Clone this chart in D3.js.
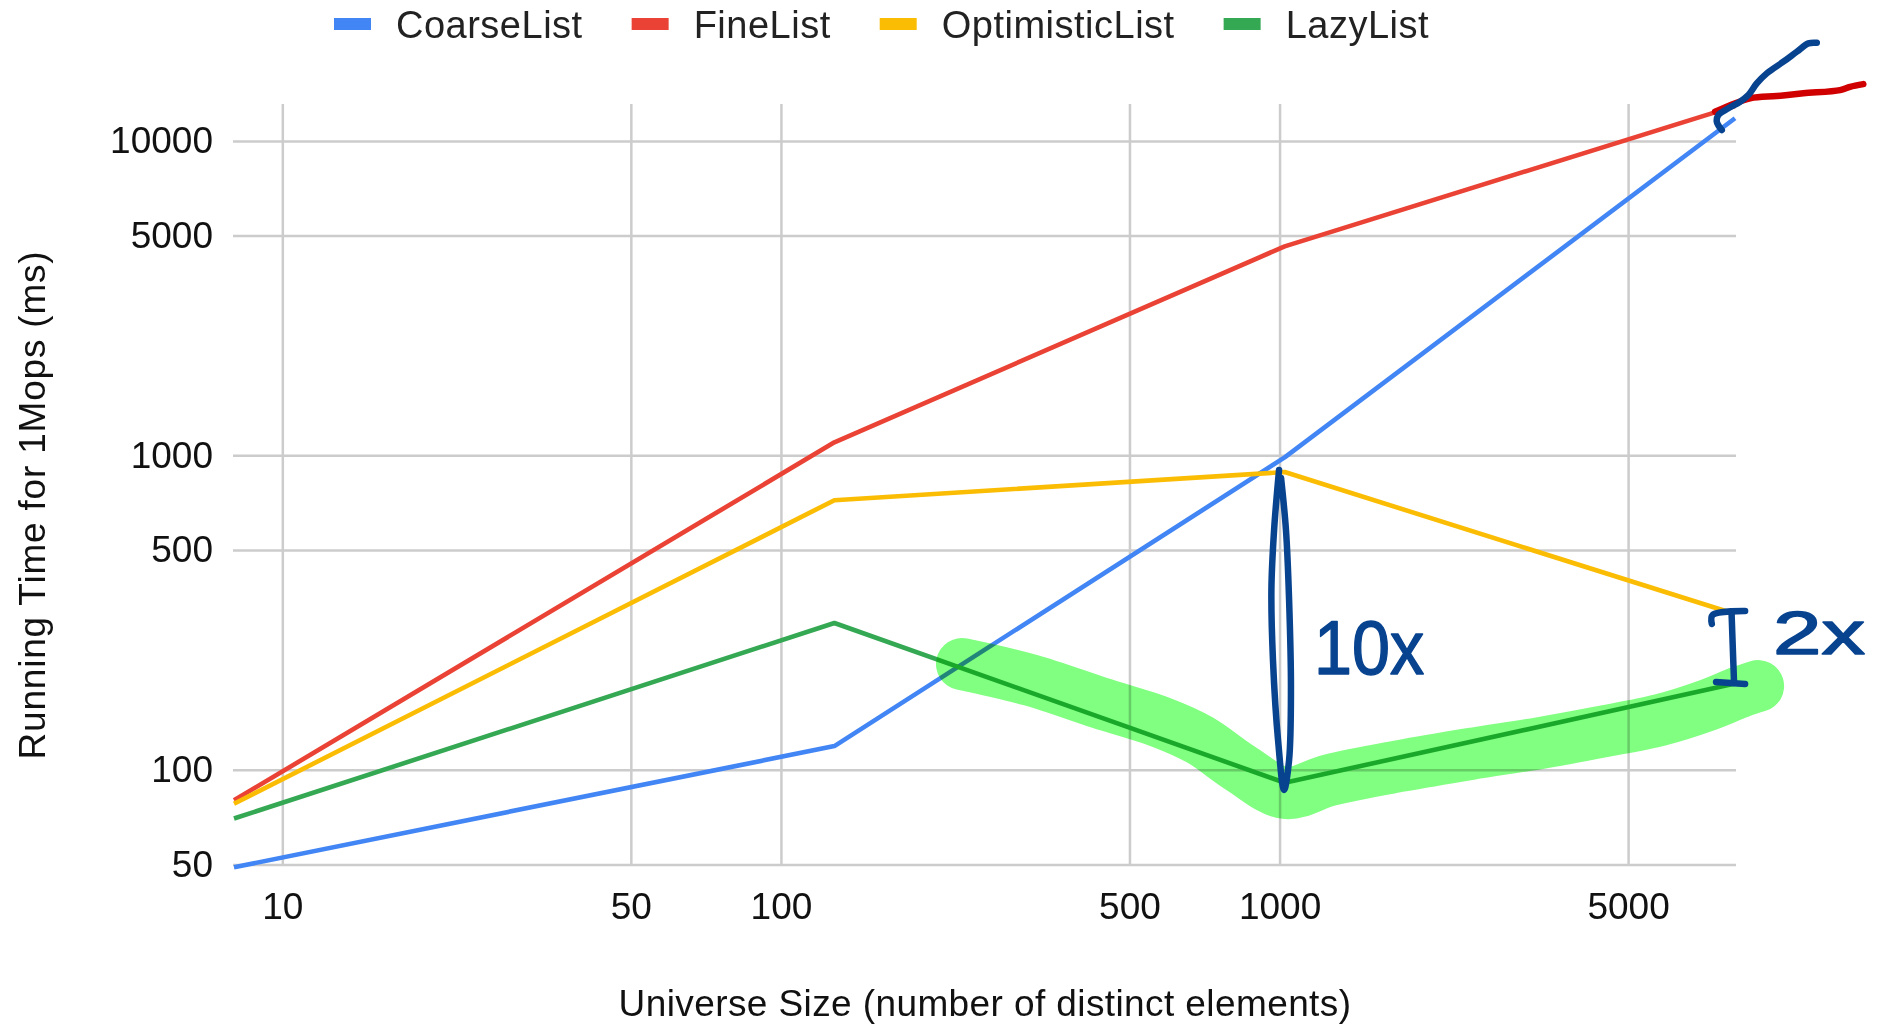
<!DOCTYPE html>
<html>
<head>
<meta charset="utf-8">
<script src="https://cdn.jsdelivr.net/npm/d3@7"></script>
<style>
  html, body { margin: 0; padding: 0; background: #ffffff; }
  svg { display: block; font-family: "Liberation Sans", Arial, sans-serif; }
</style>
</head>
<body>
<svg id="chart" width="1894" height="1028"></svg>
<script>
// ---- data: running time for 1M operations per list implementation ----
const universeSizes   = [8, 128, 1024, 8192];
const coarseList      = [49, 119, 985, 11800];
const fineList        = [80, 1100, 4620, 12900];
const optimisticList  = [78, 720, 885, 313];
const lazyList        = [70, 293, 91, 188];

const seriesNames  = ["CoarseList", "FineList", "OptimisticList", "LazyList"];
const seriesColors = ["#4285f4", "#ea4335", "#fbbc04", "#34a853"];

const xTickValues = [10, 50, 100, 500, 1000, 5000];
const yTickValues = [50, 100, 500, 1000, 5000, 10000];

const xAxisTitle = "Universe Size (number of distinct elements)";
const yAxisTitle = "Running Time for 1Mops (ms)";

// ---- hand-drawn notes, expressed as [universe size, running time] ----
const highlighterPath = [
  [230.7, 217], [316, 193], [436.6, 163.1], [576, 142], [692.6, 124.4],
  [833.6, 101.4], [1025.7, 84.4], [1262, 92.8], [1744, 102.8], [2410, 112.3],
  [3330, 121.7], [4394, 131.9], [5795, 144], [7134, 159.6], [8387, 176.8], [9114, 184.7]
];
const tenfoldLoop = [
  [997.6, 898], [975, 579], [963, 373], [970, 223.5], [993, 124.4], [1021, 86.3],
  [1045, 107.5], [1054, 179.4], [1045, 346.7], [1030, 579], [1007, 847]
];
const bracketTop    = [[7360, 291], [7386, 310.7], [8583, 320]];
const bracketStem   = [[8063, 315.3], [8156, 188.9]];
const bracketBottom = [[7506, 190.2], [8583, 187.5]];
const coarseExtension = [
  [7707, 10826], [7532, 11506], [7587, 12085], [7945, 12692], [8386, 13321],
  [8714, 13986], [9058, 15234], [9487, 16393], [10242, 17851], [10896, 19205],
  [11496, 20420], [11952, 20510]
];
const fineExtension = [
  [7472, 12375], [8784, 13654], [9933, 13887], [11234, 14163],
  [13307, 14507], [13936, 14859], [14816, 15154]
];
const noteLabels = [
  { text: "10x", at: [1173, 201], size: 76, width: 110, adjust: "spacingAndGlyphs" },
  { text: "2x",  at: [9768, 233.5], size: 62, width: 92, adjust: "spacingAndGlyphs" }
];

// ---- layout ----
const svg = d3.select("#chart");
const plot = { left: 234, right: 1735, top: 104, bottom: 864.5 };

const x = d3.scaleLog().domain([8, 8192]).range([plot.left, plot.right]);
const y = d3.scaleLog().domain([50, 13100]).range([plot.bottom, plot.top]);

const gridColor = "#cccccc";
const fontSize = 37;

// horizontal gridlines + y tick labels
const yAxis = d3.axisLeft(y)
  .tickValues(yTickValues)
  .tickFormat(d3.format("d"))
  .tickSize(-(plot.right + 1 - (plot.left - 1)))
  .tickPadding(20);
const gy = svg.append("g")
  .attr("transform", `translate(${plot.left - 1},0)`)
  .call(yAxis);
gy.select(".domain").remove();
gy.selectAll(".tick line").attr("stroke", gridColor).attr("stroke-width", 2.5);
gy.selectAll(".tick text")
  .attr("fill", "#111")
  .style("font-size", fontSize + "px")
  .style("font-family", '"Liberation Sans", Arial, sans-serif');

// vertical gridlines + x tick labels
const xAxis = d3.axisBottom(x)
  .tickValues(xTickValues)
  .tickFormat(d3.format("d"))
  .tickSize(-(plot.bottom - plot.top))
  .tickPadding(28);
const gx = svg.append("g")
  .attr("transform", `translate(0,${plot.bottom})`)
  .call(xAxis);
gx.select(".domain").remove();
gx.selectAll(".tick line").attr("stroke", gridColor).attr("stroke-width", 2.5);
gx.selectAll(".tick text")
  .attr("fill", "#111")
  .style("font-size", fontSize + "px")
  .style("font-family", '"Liberation Sans", Arial, sans-serif');

// series lines
const allSeries = [coarseList, fineList, optimisticList, lazyList];
const line = d3.line().x(d => x(d[0])).y(d => y(d[1]));
svg.append("g").selectAll("path")
  .data(allSeries)
  .join("path")
  .attr("fill", "none")
  .attr("stroke", (d, i) => seriesColors[i])
  .attr("stroke-width", 4.6)
  .attr("stroke-linejoin", "round")
  .attr("d", vals => line(universeSizes.map((u, i) => [u, vals[i]])));

// axis titles
svg.append("text")
  .attr("x", 985).attr("y", 1016)
  .attr("text-anchor", "middle")
  .attr("fill", "#111")
  .style("font-size", "37px")
  .style("letter-spacing", "0.4px")
  .text(xAxisTitle);

svg.append("text")
  .attr("transform", "translate(45,505) rotate(-90)")
  .attr("text-anchor", "middle")
  .attr("fill", "#111")
  .style("font-size", "37px")
  .style("letter-spacing", "0.8px")
  .text(yAxisTitle);

// legend
const legend = svg.append("g").attr("class", "legend");
let cursor = 334;
seriesNames.forEach((name, i) => {
  legend.append("rect")
    .attr("x", cursor).attr("y", 18)
    .attr("width", 37).attr("height", 12)
    .attr("fill", seriesColors[i]);
  cursor += 37 + 25;
  const t = legend.append("text")
    .attr("x", cursor).attr("y", 24)
    .attr("dy", "0.36em")
    .attr("fill", "#222")
    .style("font-size", "38px")
    .style("letter-spacing", "0.5px")
    .text(name);
  cursor += t.node().getComputedTextLength() + 49;
});

// ---- hand-drawn notes layer ----
const notes = svg.append("g").attr("class", "notes");
const penBlue = "#08438f";
const penRed = "#d00000";
const smooth = d3.line().x(d => x(d[0])).y(d => y(d[1])).curve(d3.curveCatmullRom.alpha(0.5));

notes.append("path")
  .attr("d", smooth(highlighterPath))
  .attr("fill", "none")
  .attr("stroke", "#80ff80")
  .attr("stroke-width", 52)
  .attr("stroke-linecap", "round")
  .attr("stroke-linejoin", "round")
  .style("mix-blend-mode", "multiply");

[
  [fineExtension, penRed],
  [coarseExtension, penBlue],
  [tenfoldLoop, penBlue],
  [bracketTop, penBlue],
  [bracketStem, penBlue],
  [bracketBottom, penBlue]
].forEach(([pts, color]) => {
  notes.append("path")
    .attr("d", smooth(pts))
    .attr("fill", "none")
    .attr("stroke", color)
    .attr("stroke-width", 6.5)
    .attr("stroke-linecap", "round")
    .attr("stroke-linejoin", "round");
});

noteLabels.forEach(n => {
  notes.append("text")
    .attr("x", x(n.at[0])).attr("y", y(n.at[1]))
    .attr("fill", penBlue)
    .attr("stroke", penBlue)
    .attr("stroke-width", 1.5)
    .attr("stroke-linejoin", "round")
    .attr("textLength", n.width)
    .attr("lengthAdjust", n.adjust)
    .style("font-size", n.size + "px")
    .text(n.text);
});
</script>
</body>
</html>
